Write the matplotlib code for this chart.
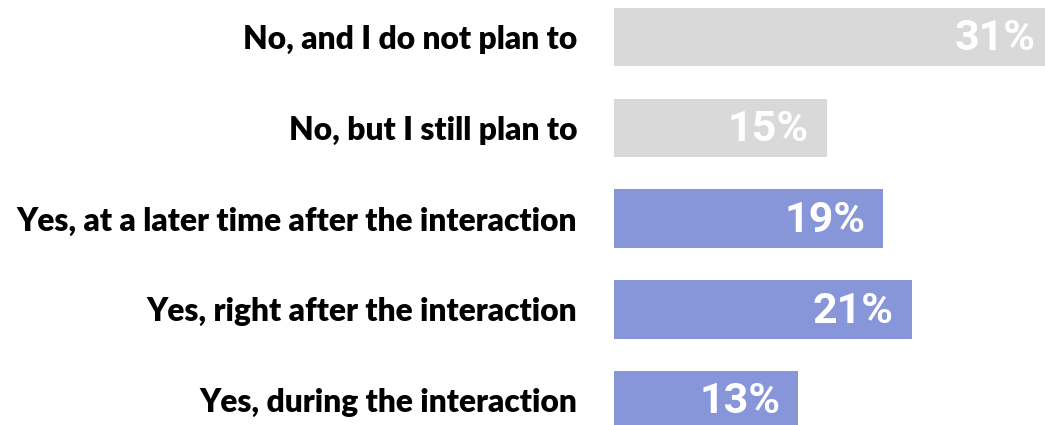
import matplotlib
matplotlib.use('Agg')
import matplotlib.pyplot as plt

labels = ['No, and I do not plan to',
          'No, but I still plan to',
          'Yes, at a later time after the interaction',
          'Yes, right after the interaction',
          'Yes, during the interaction']
values = [31, 15, 19, 21, 13]
colors = ['#d9d9d9', '#d9d9d9', '#8795d9', '#8795d9', '#8795d9']

fig = plt.figure(figsize=(10.45, 4.25), dpi=100)
ax = fig.add_axes([614/1045, 0, 431/1045, 1])

pos = list(range(len(values)))
ax.barh(pos, values, height=0.645, color=colors)

for p, v in zip(pos, values):
    ax.text(v - 1.27, p + 0.02, str(v) + '%', ha='right', va='center', color='white',
            fontsize=31, fontweight='bold', family='Roboto', clip_on=False)

ax.set_xlim(0, 431/14.17)
ax.set_ylim(4.275, -0.408)
ax.set_yticks(pos)
ax.set_yticklabels(labels, fontsize=22.9, fontweight='heavy', family='Lato', color='black')
ax.tick_params(axis='y', length=0, pad=26.6)
ax.set_xticks([])
for s in ax.spines.values():
    s.set_visible(False)

fig.savefig('out.png', dpi=100)
